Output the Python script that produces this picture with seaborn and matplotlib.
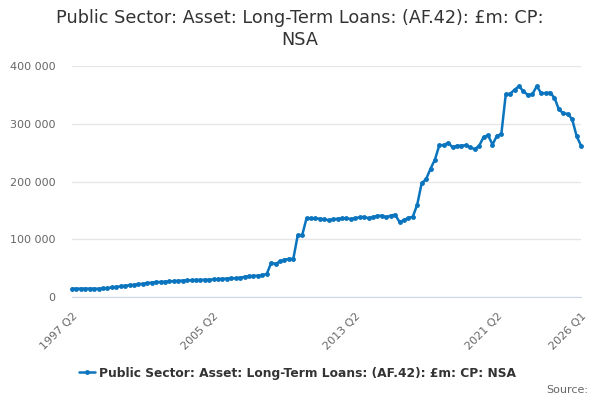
import matplotlib
matplotlib.use("Agg")
import matplotlib.pyplot as plt
import pandas as pd
import seaborn as sns

series_name = "Public Sector: Asset: Long-Term Loans: (AF.42): £m: CP: NSA"

# quarters 1997 Q2 .. 2026 Q1
quarters = []
for yr in range(1997, 2027):
    for q in range(1, 5):
        if (yr, q) < (1997, 2) or (yr, q) > (2026, 1):
            continue
        quarters.append(f"{yr} Q{q}")

# £m
values = [
    14400, 14500, 14500, 14600, 14500, 14500, 14400, 14800,
    15500, 16500, 17500, 18500, 19500, 20500, 21000, 22000,
    23000, 24000, 25000, 26000, 26000, 26500, 27000, 27500,
    28000, 28500, 29000, 29000, 29500, 29500, 30000, 30000,
    30500, 31000, 31500, 32000, 32500, 32500, 33500, 35000,
    36000, 36500, 37000, 38000, 40000, 59000, 57500, 61500,
    64500, 66000, 66000, 107000, 107000, 136500, 136000, 136000,
    135500, 134500, 133000, 134500, 135500, 136000, 136000, 135000,
    136500, 138000, 138500, 136500, 138500, 140500, 141000, 138000,
    141000, 142500, 130000, 133000, 137000, 139000, 160000, 197000,
    204000, 222000, 238000, 263000, 263000, 267000, 259000, 262000,
    262000, 263000, 259000, 256000, 262000, 277000, 280000, 264000,
    279000, 282000, 351000, 352000, 359000, 365000, 356000, 350000,
    351000, 365000, 353000, 353000, 354000, 345000, 325000, 318000,
    317000, 308000, 279000, 262000,
]

tick_quarters = [quarters[i] for i in range(0, 105, 8)] + ["2026 Q1"]
label_quarters = ["1997 Q2", "2005 Q2", "2013 Q2", "2021 Q2", "2026 Q1"]
y_ticks = [0, 100000, 200000, 300000, 400000]

sns.set_style("white")
plt.rcParams['font.family'] = ['DejaVu Sans']

df = pd.DataFrame({"quarter": quarters, "value": values})
df["pos"] = range(len(df))

fig = plt.figure(figsize=(6, 4), dpi=100)
ax = fig.add_axes([72 / 600, 1 - 297 / 400, 509 / 600, 231 / 400])

sns.lineplot(data=df, x="pos", y="value", ax=ax, color="#0a74be",
             linewidth=1.8, marker="o", markersize=3.5, markeredgewidth=0,
             clip_on=False, legend=False)

ax.set_xlim(0, len(df) - 1)
ax.set_ylim(0, 400000)
ax.set_xlabel("")
ax.set_ylabel("")

ax.set_yticks(y_ticks)
ax.set_yticklabels([f"{v:,}".replace(",", " ") for v in y_ticks])
ax.yaxis.grid(True, color="#e6e6e6", linewidth=1)
ax.set_axisbelow(True)

pos = {q: i for i, q in enumerate(quarters)}
ax.set_xticks([pos[q] for q in tick_quarters])
ax.set_xticklabels([q if q in label_quarters else "" for q in tick_quarters],
                   rotation=45, ha="right", rotation_mode="anchor")

for s in ["top", "right", "left"]:
    ax.spines[s].set_visible(False)
ax.spines["bottom"].set_color("#ccd6eb")
ax.tick_params(axis="x", length=7, width=1, color="#ccd6eb", labelsize=8,
               labelcolor="#666666", pad=3)
ax.tick_params(axis="y", length=0, pad=12, labelsize=8, labelcolor="#666666")

fig.text(0.5, 0.978, "Public Sector: Asset: Long-Term Loans: (AF.42): £m: CP:\nNSA",
         ha="center", va="top", fontsize=12.7, color="#333333", linespacing=1.3)

fig.legend(handles=[ax.get_lines()[0]], labels=[series_name],
           loc="center", bbox_to_anchor=(0.496, 0.0675), frameon=False,
           prop={"weight": "bold", "size": 8.8}, labelcolor="#333333",
           handlelength=1.3, handletextpad=0.4)

fig.text(0.98, 0.025, "Source:", ha="right", va="center", fontsize=8,
         color="#666666")

fig.savefig("out.png", dpi=100)
